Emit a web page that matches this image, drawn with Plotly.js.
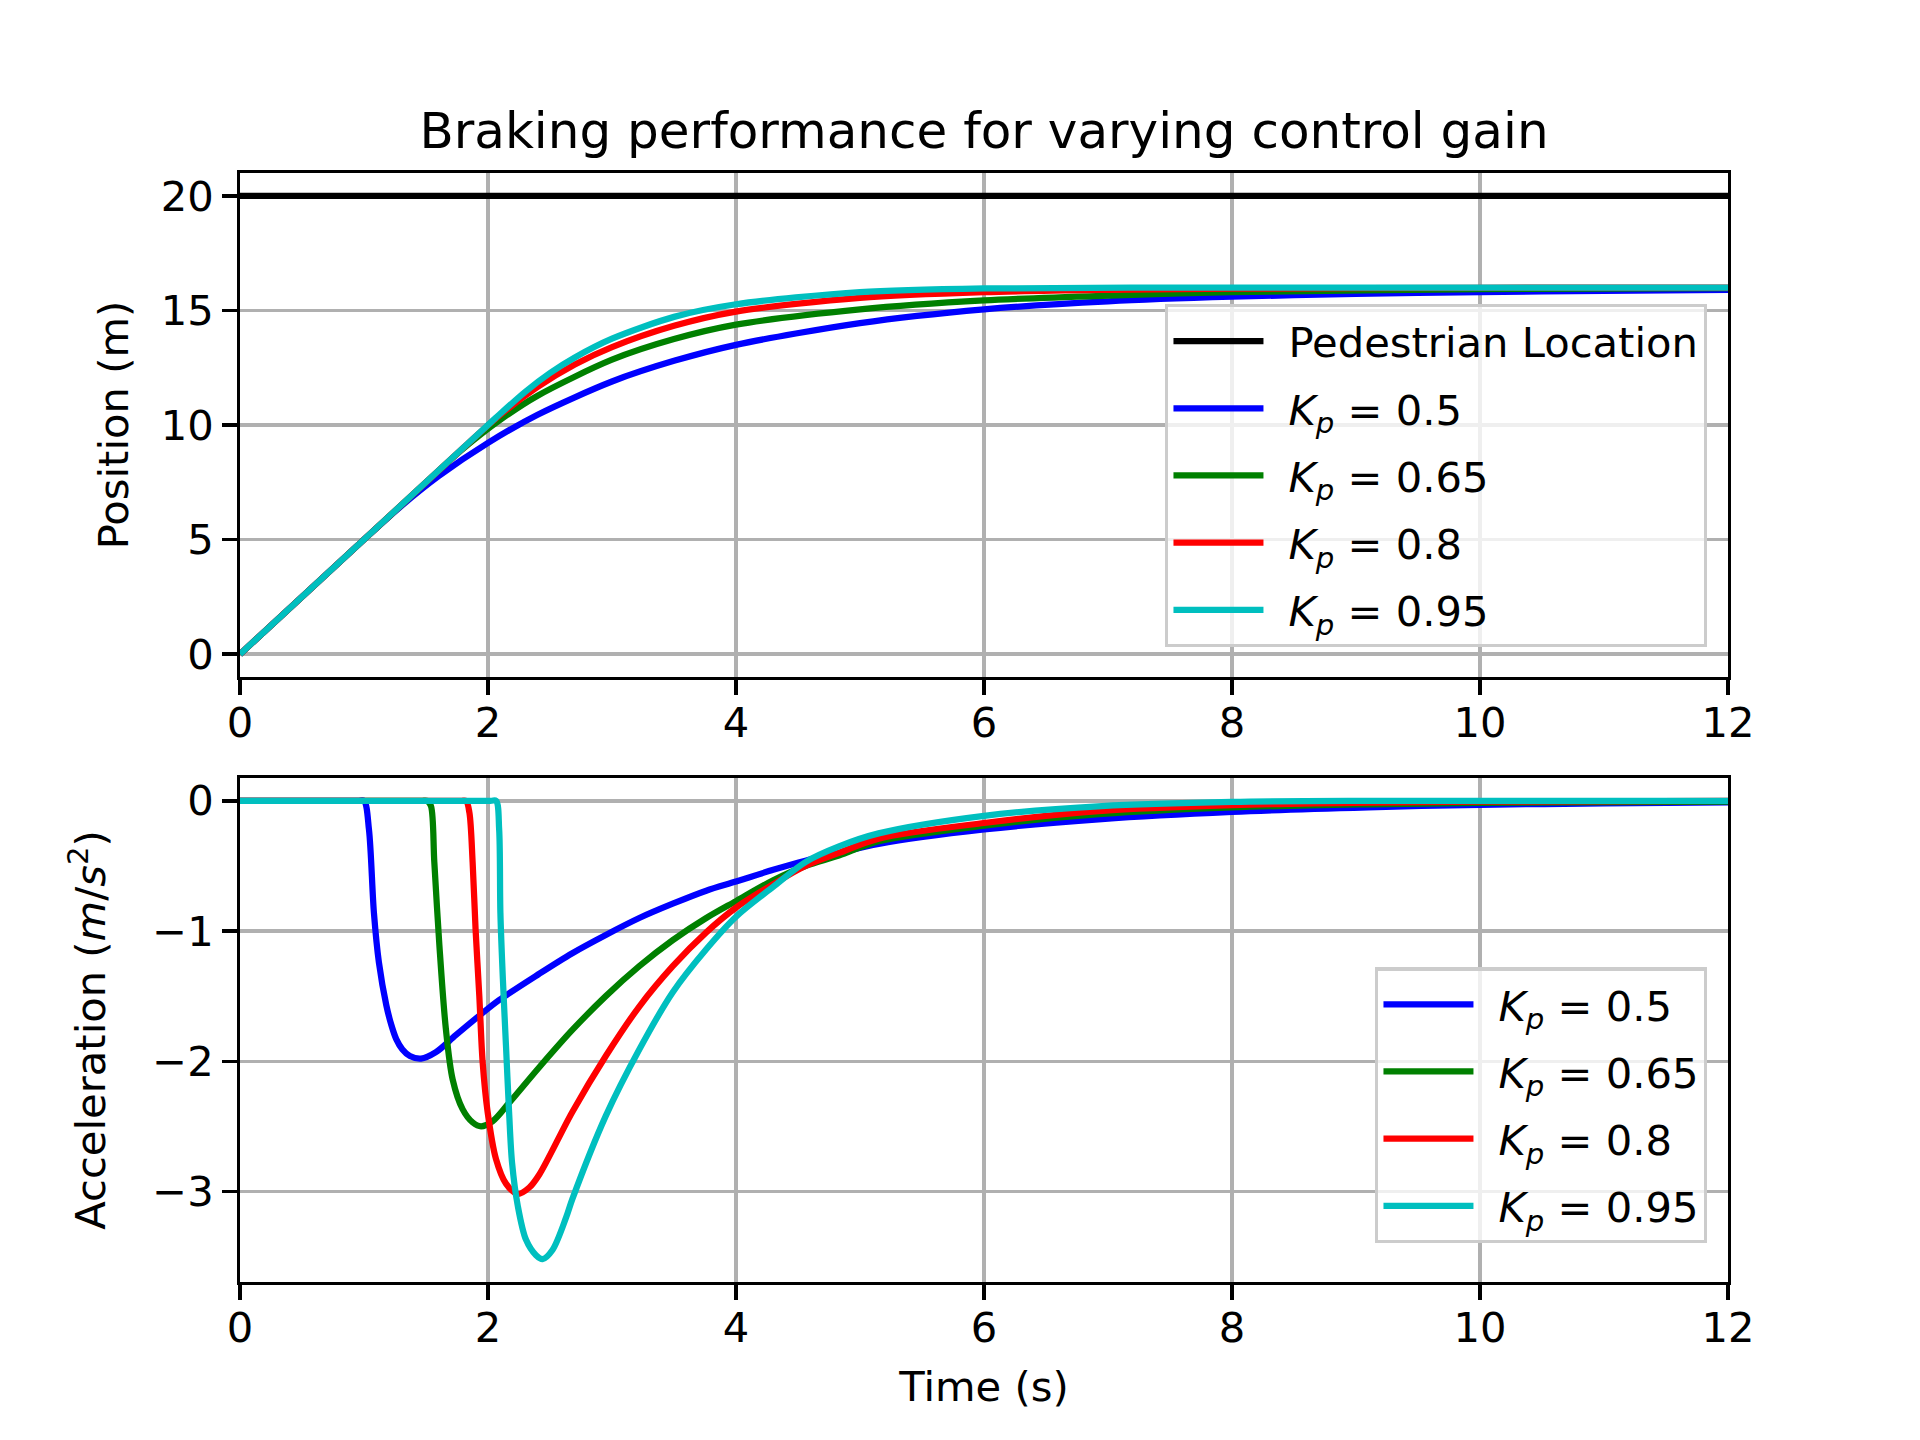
<!DOCTYPE html>
<html>
<head>
<meta charset="utf-8">
<script src="https://cdn.plot.ly/plotly-3.0.1.min.js"></script>
<style>
  body { margin: 0; background: #fff; }
  #chart { width: 1920px; height: 1440px; }
</style>
</head>
<body>
<div id="chart"></div>
<script>
// values

const pedTime = [0, 12];
const pedPos = [20, 20];

// position (m)
const tPos05 = [0, 1, 1.3, 1.6, 2, 2.4, 3, 3.5, 4, 5, 6, 7, 8, 9, 10, 11, 12];
const pos05 = [0, 5, 6.46, 7.76, 9.22, 10.45, 11.9, 12.8, 13.5, 14.45, 15.05, 15.4, 15.6, 15.72, 15.8, 15.86, 15.9];

const tPos065 = [0, 1, 1.5, 1.8, 2.1, 2.4, 3, 3.5, 4, 5, 6, 7, 8, 10, 12];
const pos065 = [0, 5, 7.5, 8.97, 10.23, 11.28, 12.85, 13.75, 14.38, 15.05, 15.44, 15.65, 15.8, 15.93, 15.98];

const tPos08 = [0, 1, 1.82, 2.06, 2.4, 2.7, 3, 3.5, 4, 5, 6, 7, 8, 10, 12];
const pos08 = [0, 5, 9.1, 10.27, 11.66, 12.64, 13.4, 14.33, 14.95, 15.55, 15.8, 15.9, 15.95, 15.99, 16.0];

const tPos095 = [0, 1, 2.06, 2.3, 2.5, 2.7, 3, 3.5, 4, 5, 6, 8, 12];
const pos095 = [0, 5, 10.3, 11.45, 12.27, 12.95, 13.77, 14.72, 15.27, 15.8, 15.96, 16.0, 16.0];

// acceleration (m/s^2)
const tAcc05 = [0, 0.95, 1.0, 1.04, 1.08, 1.12, 1.18, 1.22, 1.26, 1.31, 1.37, 1.46, 1.58, 1.74, 1.93, 2.09, 2.41, 2.68, 2.95, 3.22, 3.49, 3.76, 4.0, 4.3, 4.56, 4.83, 5.15, 6.0, 6.95, 8.0, 9.1, 10.0, 11.0, 12.0];
const acc05 = [0, 0, 0, -0.22, -0.86, -1.24, -1.57, -1.72, -1.83, -1.91, -1.96, -1.98, -1.93, -1.80, -1.65, -1.53, -1.33, -1.17, -1.03, -0.90, -0.79, -0.69, -0.62, -0.53, -0.46, -0.40, -0.33, -0.22, -0.14, -0.085, -0.05, -0.03, -0.02, -0.012];

const tAcc065 = [0, 1.46, 1.51, 1.54, 1.567, 1.608, 1.66, 1.715, 1.796, 1.876, 1.944, 2.038, 2.17, 2.41, 2.68, 2.95, 3.22, 3.49, 3.76, 4.0, 4.3, 4.56, 4.83, 5.15, 6.0, 6.95, 8.0, 9.1, 10.0, 12.0];
const acc065 = [0, 0, 0, -0.04, -0.47, -1.11, -1.75, -2.14, -2.37, -2.47, -2.50, -2.46, -2.32, -2.05, -1.76, -1.50, -1.27, -1.07, -0.90, -0.77, -0.61, -0.50, -0.42, -0.31, -0.19, -0.10, -0.05, -0.026, -0.015, -0.005];

const tAcc08 = [0, 1.78, 1.823, 1.85, 1.876, 1.90, 1.93, 1.957, 1.997, 2.064, 2.145, 2.24, 2.333, 2.414, 2.68, 2.95, 3.22, 3.49, 3.76, 4.0, 4.3, 4.56, 4.83, 5.15, 6.0, 6.95, 8.0, 9.1, 10.0, 12.0];
const acc08 = [0, 0, 0, -0.09, -0.47, -0.99, -1.50, -2.01, -2.39, -2.75, -2.94, -3.02, -2.97, -2.87, -2.39, -1.96, -1.58, -1.27, -1.01, -0.82, -0.64, -0.50, -0.40, -0.29, -0.17, -0.077, -0.033, -0.013, -0.006, -0.001];

const tAcc095 = [0, 2.02, 2.065, 2.09, 2.10, 2.12, 2.145, 2.17, 2.194, 2.24, 2.306, 2.387, 2.44, 2.52, 2.63, 2.68, 2.95, 3.22, 3.49, 3.76, 4.0, 4.3, 4.56, 4.83, 5.15, 6.0, 6.95, 8.0, 9.1, 12.0];
const acc095 = [0, 0, 0, -0.22, -0.86, -1.37, -1.88, -2.39, -2.78, -3.11, -3.37, -3.49, -3.52, -3.45, -3.2, -3.06, -2.42, -1.91, -1.47, -1.14, -0.89, -0.66, -0.47, -0.35, -0.25, -0.115, -0.04, -0.008, 0, 0];

const gainLabels = ['0.5', '0.65', '0.8', '0.95'];
const colors = ['#0000ff', '#008000', '#ff0000', '#00bfbf'];

const LW = 6.25;
const FONT = 'DejaVu Sans, sans-serif';
const FS = 41.67;

kpName = (g) => '<i>K</i><sub><i>p</i></sub> = ' + g;

const posT = [tPos05, tPos065, tPos08, tPos095];
const posY = [pos05, pos065, pos08, pos095];
const accT = [tAcc05, tAcc065, tAcc08, tAcc095];
const accY = [acc05, acc065, acc08, acc095];

const traces = [{
    x: pedTime, y: pedPos, type: 'scatter', mode: 'lines',
    name: 'Pedestrian Location',
    line: {color: '#000000', width: LW},
    xaxis: 'x2', yaxis: 'y2', legend: 'legend', legendgroup: 'p'
}];

gainLabels.forEach((g, i) => {
    traces.push({
        x: posT[i], y: posY[i], type: 'scatter', mode: 'lines',
        name: kpName(g),
        line: {color: colors[i], width: LW, shape: 'spline', smoothing: 0.8},
        xaxis: 'x2', yaxis: 'y2', legend: 'legend', legendgroup: 'p' + i
    });
});

gainLabels.forEach((g, i) => {
    traces.push({
        x: accT[i], y: accY[i], type: 'scatter', mode: 'lines',
        name: kpName(g),
        line: {color: colors[i], width: LW, shape: 'spline', smoothing: 0.9},
        xaxis: 'x', yaxis: 'y', legend: 'legend2', legendgroup: 'a' + i
    });
});

axisStyle = (extra) => Object.assign({
    showline: true, mirror: true, linecolor: '#000', linewidth: 3.3,
    showgrid: true, gridcolor: '#b0b0b0', gridwidth: 3.3,
    zeroline: false,
    ticks: 'outside', ticklen: 14.6, tickwidth: 3.3, tickcolor: '#000',
    ticklabelstandoff: 14.6,
    tickfont: {family: FONT, size: FS, color: '#000'}
}, extra);

legendStyle = (x, y) => ({
    x: x, y: y, xanchor: 'right', yanchor: 'top',
    bgcolor: 'rgba(255,255,255,0.8)', bordercolor: '#cccccc', borderwidth: 3.3,
    font: {family: FONT, size: FS, color: '#000'},
    itemwidth: 110, tracegroupgap: 10, traceorder: 'grouped'
});

const layout = {
    width: 1920, height: 1440,
    paper_bgcolor: '#fff', plot_bgcolor: '#fff',
    margin: {l: 240, r: 192, t: 172.8, b: 158.4},
    font: {family: FONT, size: FS, color: '#000'},
    title: {
        text: 'Braking performance for varying control gain',
        font: {family: FONT, size: 50, color: '#000'},
        xref: 'paper', x: 0.5, xanchor: 'center',
        yref: 'container', y: 1 - 130 / 1440, yanchor: 'middle'
    },
    xaxis: axisStyle({
        domain: [0, 1], anchor: 'y', range: [0, 12], dtick: 2,
        ticklabelstandoff: -8,
        title: {text: 'Time (s)', font: {family: FONT, size: FS}, standoff: 22}
    }),
    yaxis: axisStyle({
        domain: [0, 0.4545], anchor: 'x', range: [-3.696, 0.176], dtick: 1,
        title: {text: 'Acceleration (<i>m</i>/<i>s</i><sup>2</sup>)', font: {family: FONT, size: FS}, standoff: 34}
    }),
    xaxis2: axisStyle({
        domain: [0, 1], anchor: 'y2', range: [0, 12], dtick: 2,
        ticklabelstandoff: -8
    }),
    yaxis2: axisStyle({
        domain: [0.5455, 1], anchor: 'x2', range: [-1, 21], dtick: 5,
        title: {text: 'Position (m)', font: {family: FONT, size: FS}, standoff: 20}
    }),
    legend: legendStyle(0.986, 0.8817),
    legend2: legendStyle(0.986, 0.2837),
    showlegend: true
};

Plotly.newPlot('chart', traces, layout, {displayModeBar: false, staticPlot: true}).then(() => {
    // longer legend handles, like the reference
    document.querySelectorAll('.legendlines path').forEach(p => p.setAttribute('d', 'M5,0h90'));
});
</script>
</body>
</html>
